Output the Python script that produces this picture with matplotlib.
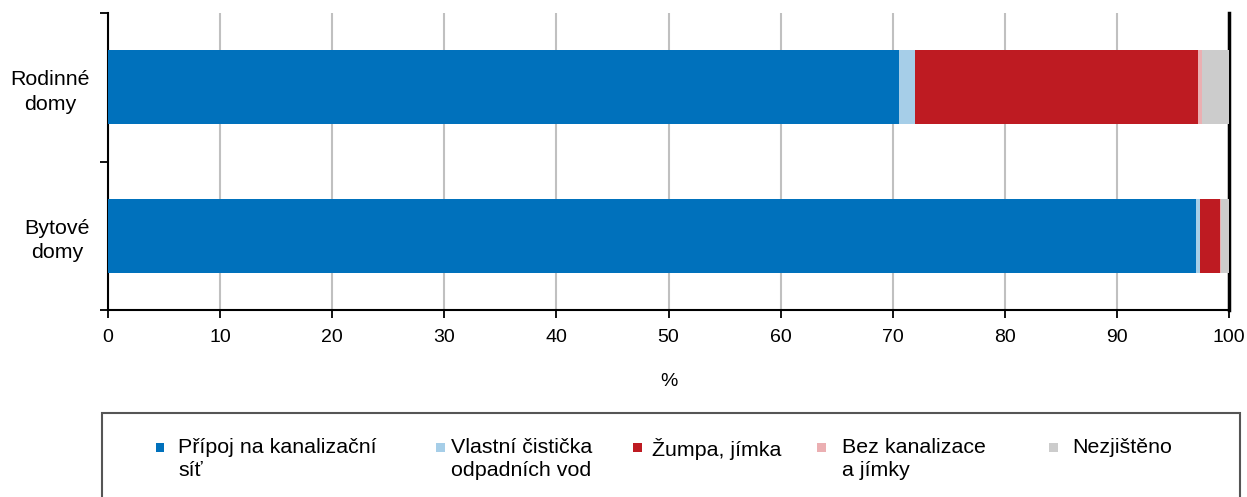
import matplotlib.pyplot as plt
from matplotlib.patches import Rectangle

plt.rcParams['font.family'] = ['Liberation Sans', 'DejaVu Sans']
plt.rcParams['font.size'] = 15.4

# --- Data (% of dwellings by sewage disposal) ---
categories = ["Rodinné\ndomy", "Bytové\ndomy"]
series_names = ["Přípoj na kanalizační\nsíť", "Vlastní čistička\nodpadních vod",
                "Žumpa, jímka", "Bez kanalizace\na jímky", "Nezjištěno"]
pripoj = [70.6, 97.1]
cisticka = [1.35, 0.35]
zumpa = [25.3, 1.75]
bez = [0.35, 0.05]
nezjisteno = [2.4, 0.75]
colors = ["#0071bc", "#a6cee8", "#be1b22", "#ebafb2", "#cccccc"]

values = [pripoj, cisticka, zumpa, bez, nezjisteno]

fig = plt.figure(figsize=(12.47, 4.97), dpi=100)
W, H = 1247, 497
ax = fig.add_axes([108 / W, 1 - 310 / H, (1229 - 108) / W, (310 - 13) / H])

ypos = list(range(len(categories)))
left = [0.0] * len(categories)
for vals, col, name in zip(values, colors, series_names):
    ax.barh(ypos, vals, left=left, height=0.5, color=col, label=name, zorder=3)
    left = [l + v for l, v in zip(left, vals)]

ax.set_xlim(0, 100)
ax.set_ylim(1.5, -0.5)
ax.set_xticks(range(0, 101, 10))
ax.grid(axis="x", color="#c0c0c0", linewidth=1.5, zorder=0)
ax.set_axisbelow(True)

# category boundaries as major ticks, labels as minor
ax.set_yticks([-0.5, 0.5, 1.5])
ax.set_yticklabels([])
ax.set_yticks(ypos, minor=True)
ax.set_yticklabels(categories, minor=True)
ax.tick_params(axis="y", which="minor", length=0, pad=13)
ax.tick_params(axis="y", which="major", length=6, width=1.3, direction="out")
ax.tick_params(axis="x", length=6, width=1.3, direction="out", pad=8,
               labelsize=14)
for t in ax.get_yticklabels(minor=True):
    t.set_multialignment("center")
    t.set_linespacing(1.35)
    t.set_y(-0.02)

ax.spines["top"].set_visible(False)
ax.spines["left"].set_linewidth(1.5)
ax.spines["bottom"].set_linewidth(1.5)
ax.spines["right"].set_linewidth(2.5)
ax.set_xlabel("%", labelpad=19, fontsize=14)

# --- Legend box ---
fig.add_artist(Rectangle((102 / W, -0.05), (1240 - 102) / W, 0.05 + 1 - 413 / H,
                         transform=fig.transFigure, facecolor="white",
                         edgecolor="#555555", linewidth=1.5))
marker_x = [160, 440, 637, 821, 1053]
text_x = [178, 451, 652, 842, 1072]
for mx, tx, col, name in zip(marker_x, text_x, colors, series_names):
    fig.add_artist(Rectangle(((mx - 4.5) / W, 1 - 451.5 / H), 9 / W, 9 / H,
                             transform=fig.transFigure, facecolor=col,
                             edgecolor="none"))
    fig.text(tx / W, 1 - 438 / H, name, ha="left", va="top",
             linespacing=1.25)

fig.savefig("out.png", dpi=100)
